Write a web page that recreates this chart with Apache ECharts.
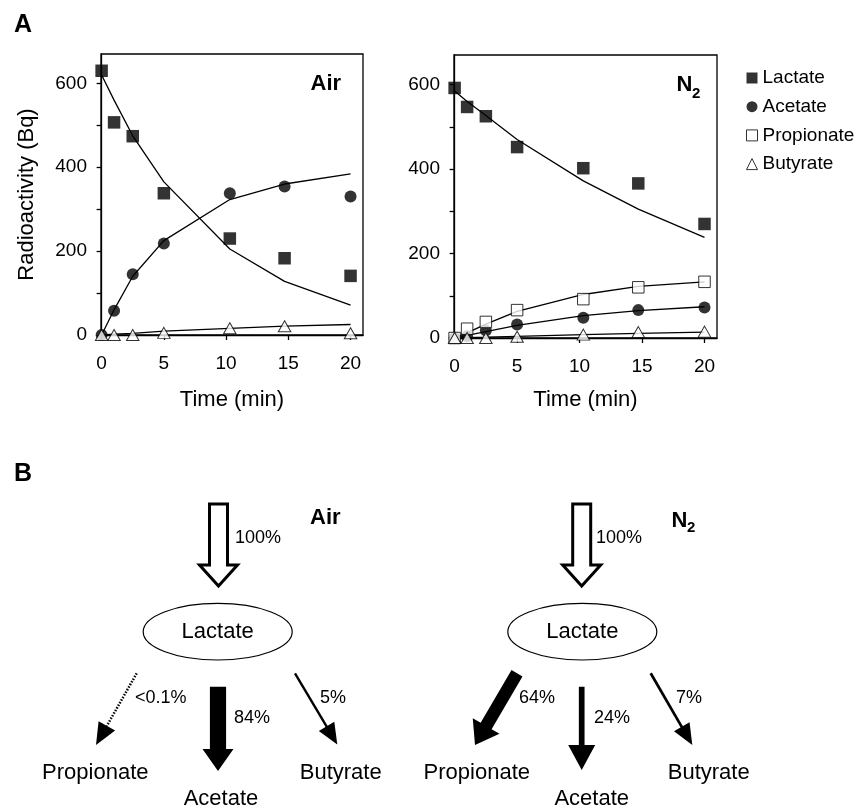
<!DOCTYPE html>
<html>
<head>
<meta charset="utf-8">
<title>Lactate turnover</title>
<script src="https://cdn.jsdelivr.net/npm/echarts@6/dist/echarts.min.js"></script>
<style>
  html, body { margin: 0; padding: 0; background: #fff; }
  #chart { width: 857px; height: 809px; }
</style>
</head>
<body>
<div id="chart"></div>
<script>
// Sampling times (min)
const times = [0, 1, 2.5, 5, 10.3, 14.7, 20];

// Air: measured radioactivity (Bq)
const airLactate  = [630, 507, 474, 338, 230, 183, 141];
const airAcetate  = [0, 58, 145, 218, 338, 354, 330];
const airButyrate = [0, 0, 0, 5, 16, 21, 4];
// Air: fitted curves
const airLactateFit  = [620, 560, 475, 365, 205, 128, 71];
const airAcetateFit  = [0, 60, 140, 225, 323, 360, 384];
const airButyrateFit = [0, 2, 4, 9, 16, 21, 25];

// N2: measured radioactivity (Bq)
const n2Lactate    = [592, 547, 525, 452, 402, 366, 270];
const n2Acetate    = [0, 4, 18, 32, 48, 66, 72];
const n2Propionate = [0, 22, 38, 66, 92, 120, 133];
const n2Butyrate   = [0, 0, 0, 3, 8, 14, 15];
// N2: fitted curves
const n2LactateFit    = [585, 560, 527, 470, 372, 305, 238];
const n2AcetateFit    = [0, 6, 15, 30, 53, 65, 74];
const n2PropionateFit = [0, 12, 33, 63, 103, 122, 133];
const n2ButyrateFit   = [0, 1, 2, 4, 8, 11, 14];

// Axis ticks
const xTicks = [0, 5, 10, 15, 20];
const yTicks = [0, 100, 200, 300, 400, 500, 600];
const yLabels = [0, 200, 400, 600];

// Flux from lactate (%): Propionate, Acetate, Butyrate
const products = ['Propionate', 'Acetate', 'Butyrate'];
const airFlux = [0.1, 84, 5];
const airFluxLabels = ['<0.1%', '84%', '5%'];
const n2Flux = [64, 24, 7];
const n2FluxLabels = ['64%', '24%', '7%'];
const inputFlux = '100%';

const FONT = "'Liberation Sans', Arial, Helvetica, sans-serif";
const pts = arr => times.map((t, i) => [t, arr[i]]);

const mk = {
  Lactate:    { symbol: 'rect', symbolSize: 12.5, itemStyle: { color: '#000' } },
  Acetate:    { symbol: 'circle', symbolSize: 12, itemStyle: { color: '#000' } },
  Propionate: { symbol: 'rect', symbolSize: 11.5, itemStyle: { color: '#fff', borderColor: '#000', borderWidth: 1 } },
  Butyrate:   { symbol: 'triangle', symbolSize: [12.5, 11], itemStyle: { color: '#fff', borderColor: '#000', borderWidth: 1 } }
};

function scatter(name, arr, idx) {
  return Object.assign({
    type: 'scatter', name, xAxisIndex: idx, yAxisIndex: idx,
    data: pts(arr), z: 4, clip: false
  }, mk[name]);
}
function fit(name, arr, idx) {
  return {
    type: 'line', name: name + ' fit', xAxisIndex: idx, yAxisIndex: idx,
    data: pts(arr), showSymbol: false, symbol: 'none', z: 3,
    lineStyle: { color: '#000', width: 1.3 }
  };
}

function xAxis(idx, gap) {
  return {
    gridIndex: idx, type: 'value', min: -0.05, max: 21,
    name: 'Time (min)', nameLocation: 'middle', nameGap: gap,
    nameTextStyle: { fontSize: 22, color: '#000', fontFamily: FONT },
    axisLine: { show: true, onZero: false, lineStyle: { color: '#000', width: 1.3 } },
    axisTick: { show: true, inside: false, length: 5, customValues: xTicks, lineStyle: { color: '#000', width: 1.3 } },
    axisLabel: { customValues: xTicks, fontSize: 19, color: '#000', fontFamily: FONT, margin: 19 },
    splitLine: { show: false }
  };
}
function yAxis(idx, withName) {
  return {
    gridIndex: idx, type: 'value', min: 0, max: 670,
    name: withName ? 'Radioactivity (Bq)' : '', nameLocation: 'middle', nameGap: 63,
    nameTextStyle: { fontSize: 22, color: '#000', fontFamily: FONT },
    axisLine: { show: true, lineStyle: { color: '#000', width: 1.3 } },
    axisTick: { show: true, inside: false, length: 5, customValues: yTicks, lineStyle: { color: '#000', width: 1.3 } },
    axisLabel: { customValues: yLabels, fontSize: 19, color: '#000', fontFamily: FONT, margin: 14 },
    splitLine: { show: false }
  };
}

// ---- pathway diagrams (panel B) ----
function arrowPolygon(from, to, w, hw, hl) {
  const dx = to[0] - from[0], dy = to[1] - from[1];
  const len = Math.hypot(dx, dy);
  const ux = dx / len, uy = dy / len, px = -uy, py = ux;
  const bx = to[0] - ux * hl, by = to[1] - uy * hl;
  return [
    [from[0] + px * w / 2, from[1] + py * w / 2],
    [bx + px * w / 2, by + py * w / 2],
    [bx + px * hw / 2, by + py * hw / 2],
    [to[0], to[1]],
    [bx - px * hw / 2, by - py * hw / 2],
    [bx - px * w / 2, by - py * w / 2],
    [from[0] - px * w / 2, from[1] - py * w / 2]
  ];
}
function headPolygon(from, to, hw, hl) {
  const dx = to[0] - from[0], dy = to[1] - from[1];
  const len = Math.hypot(dx, dy);
  const ux = dx / len, uy = dy / len, px = -uy, py = ux;
  const bx = to[0] - ux * hl, by = to[1] - uy * hl;
  return [[bx + px * hw / 2, by + py * hw / 2], [to[0], to[1]], [bx - px * hw / 2, by - py * hw / 2]];
}

function fluxArrow(from, to, value) {
  const els = [];
  if (value < 1) {
    // trace flux: dotted shaft
    const hl = 22, hw = 19;
    const dx = to[0] - from[0], dy = to[1] - from[1], len = Math.hypot(dx, dy);
    els.push({ type: 'line', shape: { x1: from[0], y1: from[1], x2: to[0] - dx / len * hl, y2: to[1] - dy / len * hl },
      style: { stroke: '#000', lineWidth: 2.5, lineDash: [1.5, 1.5] } });
    els.push({ type: 'polygon', shape: { points: headPolygon(from, to, hw, hl) }, style: { fill: '#000' } });
    return els;
  }
  const w = 1.5 + 0.175 * value;
  if (w < 4) {
    const hl = 21, hw = 18;
    const dx = to[0] - from[0], dy = to[1] - from[1], len = Math.hypot(dx, dy);
    els.push({ type: 'line', shape: { x1: from[0], y1: from[1], x2: to[0] - dx / len * (hl - 2), y2: to[1] - dy / len * (hl - 2) },
      style: { stroke: '#000', lineWidth: w } });
    els.push({ type: 'polygon', shape: { points: headPolygon(from, to, hw, hl) }, style: { fill: '#000' } });
    return els;
  }
  const hw = w > 10 ? 31 : 27, hl = w > 10 ? 22 : 25;
  els.push({ type: 'polygon', shape: { points: arrowPolygon(from, to, w, hw, hl) }, style: { fill: '#000' } });
  return els;
}

function txt(x, y, text, size, opts) {
  opts = opts || {};
  return {
    type: 'text', x, y, z: 10,
    style: {
      text, fill: '#000',
      font: (opts.bold ? 'bold ' : '') + size + 'px ' + FONT,
      align: opts.align || 'left', verticalAlign: 'middle'
    }
  };
}

function diagram(d) {
  const els = [];
  // 100 % input arrow (open)
  els.push({ type: 'polygon', z: 5,
    shape: { points: arrowPolygon([d.cx, 504], [d.cx, 586], 18, 38, 21) },
    style: { fill: '#fff', stroke: '#000', lineWidth: 3, lineJoin: 'miter' } });
  els.push(txt(d.inLabel[0], d.inLabel[1], inputFlux, 18));
  // lactate pool
  els.push({ type: 'ellipse', z: 5, shape: { cx: d.ex, cy: 631.7, rx: 74.5, ry: 28.3 },
    style: { fill: '#fff', stroke: '#000', lineWidth: 1.2 } });
  els.push(txt(d.ex, 632, 'Lactate', 22, { align: 'center' }));
  d.flux.forEach((v, i) => {
    fluxArrow(d.arrows[i][0], d.arrows[i][1], v).forEach(e => els.push(e));
    els.push(txt(d.pctPos[i][0], d.pctPos[i][1], d.labels[i], 18));
    els.push(txt(d.prodPos[i][0], d.prodPos[i][1], products[i], 22, { align: 'center' }));
  });
  return els;
}

const airDiagram = diagram({
  cx: 218.5, ex: 217.7, inLabel: [235, 538],
  flux: airFlux, labels: airFluxLabels,
  arrows: [[[136.7, 673.3], [96, 745]], [[218, 686.7], [218, 771]], [[295, 673.3], [337.3, 744.5]]],
  pctPos: [[135, 698], [234, 718], [320, 698]],
  prodPos: [[95.3, 773.3], [221, 799.3], [340.7, 773.3]]
});
const n2Diagram = diagram({
  cx: 581.7, ex: 582.3, inLabel: [596, 538],
  flux: n2Flux, labels: n2FluxLabels,
  arrows: [[[517, 673.3], [475, 745]], [[581.7, 686.7], [581.7, 770]], [[650.7, 673.3], [692.3, 745]]],
  pctPos: [[519, 698], [594, 718], [676, 698]],
  prodPos: [[476.8, 773], [591.7, 799], [708.7, 773]]
});

const graphics = [
  txt(14, 25, 'A', 25, { bold: true }),
  txt(14, 474, 'B', 25, { bold: true }),
  // condition labels inside plots
  txt(310.5, 83.5, 'Air', 22, { bold: true }),
  txt(676.5, 85, 'N', 22, { bold: true }),
  txt(692, 93.5, '2', 15, { bold: true }),
  // condition labels of diagrams
  txt(310, 517.5, 'Air', 22, { bold: true }),
  txt(671.5, 520.5, 'N', 22, { bold: true }),
  txt(687, 528, '2', 15, { bold: true })
].concat(airDiagram, n2Diagram);

const chart = echarts.init(document.getElementById('chart'), null, { renderer: 'canvas' });
chart.setOption({
  animation: false,
  backgroundColor: '#fff',
  textStyle: { fontFamily: FONT },
  grid: [
    { left: 101, top: 54, width: 262, height: 281, show: true, borderColor: '#000', borderWidth: 1.3, backgroundColor: 'transparent' },
    { left: 454, top: 55, width: 263, height: 283, show: true, borderColor: '#000', borderWidth: 1.3, backgroundColor: 'transparent' }
  ],
  xAxis: [xAxis(0, 54), xAxis(1, 51)],
  yAxis: [yAxis(0, true), yAxis(1, false)],
  legend: {
    orient: 'vertical', left: 746, top: 68.5, padding: 0,
    itemWidth: 11, itemHeight: 11, itemGap: 9.7, itemTextGap: 6,
    selectedMode: false,
    textStyle: { fontSize: 19, color: '#000', fontFamily: FONT, lineHeight: 19 },
    data: [
      { name: 'Lactate', icon: 'rect', itemStyle: { color: '#000', borderWidth: 0 } },
      { name: 'Acetate', icon: 'circle', itemStyle: { color: '#000', borderWidth: 0 } },
      { name: 'Propionate', icon: 'rect', itemStyle: { color: '#fff', borderColor: '#000', borderWidth: 1 } },
      { name: 'Butyrate', icon: 'triangle', itemStyle: { color: '#fff', borderColor: '#000', borderWidth: 1 } }
    ]
  },
  series: [
    fit('Lactate', airLactateFit, 0),
    fit('Acetate', airAcetateFit, 0),
    fit('Butyrate', airButyrateFit, 0),
    scatter('Lactate', airLactate, 0),
    scatter('Acetate', airAcetate, 0),
    scatter('Butyrate', airButyrate, 0),
    fit('Lactate', n2LactateFit, 1),
    fit('Acetate', n2AcetateFit, 1),
    fit('Propionate', n2PropionateFit, 1),
    fit('Butyrate', n2ButyrateFit, 1),
    scatter('Lactate', n2Lactate, 1),
    scatter('Acetate', n2Acetate, 1),
    scatter('Propionate', n2Propionate, 1),
    scatter('Butyrate', n2Butyrate, 1)
  ],
  graphic: graphics
});
</script>
</body>
</html>
